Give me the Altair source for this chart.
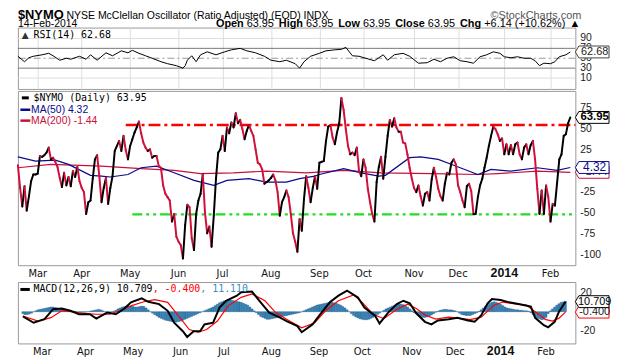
import altair as alt
import pandas as pd

W = 563
X_DOM = [1, 254.3]

# trading-day index (0 = 14-Feb-2013) of the first session of each month
month_idx = [10, 30, 52, 74, 94, 116, 138, 158, 181, 201, 222, 243]
month_lbl = ["Mar", "Apr", "May", "Jun", "Jul", "Aug", "Sep", "Oct", "Nov", "Dec", "2014", "Feb"]

# $NYMO daily values, sessions 1..252
nymo_val = [
    7, -20, -42, -18, -47, -30, -12, -4, -4, -3,
    18, 17, 19, 22, 28, 14, 16, 11, 5, -8,
    -19, -2, -17, -7, -18, 0, -7, 5, -12, -20,
    -25, -51, -37, -35, -9, 14, 19, -6, -37, -20,
    -8, -39, -20, -6, 24, 30, 36, 24, 42, 25,
    14, 30, 38, 46, 52, 59, 45, 34, 28, 24,
    26, 16, 18, 18, 6, 4, -17, -27, -31, -35,
    -60, -51, -78, -84, -88, -104, -64, -40, -43, -80,
    -94, -51, -35, -27, -4, -49, -74, -66, -90, -53,
    -9, 22, 26, 42, 24, 52, 45, 58, 52, 69,
    57, 61, 50, 38, 48, 55, 48, 42, 26, 10,
    8, 2, -15, -13, -11, -8, -4, -11, -25, -53,
    -37, -31, -23, -31, -51, -74, -84, -96, -57, -71,
    -33, -6, -20, -37, -20, -6, -21, 10, 11, 12,
    36, 53, 55, 40, 32, 46, 57, 87, 73, 50,
    30, 20, 22, 19, 28, 0, -6, 14, 4, -21,
    -37, -51, -60, -13, 5, 17, -9, 17, 42, 61,
    53, 63, 52, 47, 47, 34, 33, 20, 4, -9,
    -20, -25, -17, -30, -41, -27, -25, -35, -10, 4,
    -7, -21, -30, -35, -15, -2, -4, 10, 14, 8,
    -17, -25, -35, -43, -18, -15, -24, -51, -51, -31,
    -17, -9, 4, 16, 30, 42, 53, 50, 44, 36,
    39, 20, 32, 20, 31, 20, 32, 34, 20, 14,
    28, 32, 20, 31, 36, 14, -21, -51, -23, -51,
    -17, -31, -60, -39, -41, -14, 14, 20, 42, 44,
    57, 63.95,
]
nymo_idx = list(range(1, len(nymo_val) + 1))

ma50_idx = [1, 9, 18, 24, 34, 39, 43, 51, 57, 64, 72, 81, 90, 96, 106, 114, 123, 129, 136, 138,
            149, 157, 165, 168, 179, 184, 192, 199, 207, 210, 216, 225, 237, 246, 252]
ma50_val = [17, 12, 13, 8, -5, -6, -7, -4, 4, 6, -2, -11, -17, -11, -9, -13, -13, -9, -6, -4,
            3, -2, -6, -5, 16, 17, 14, 7, -1, -4, 2, 0, 4, 1, 4.32]

ma200_idx = [1, 16, 39, 57, 72, 84, 99, 114, 132, 149, 166, 189, 210, 219, 237, 252]
ma200_val = [4, 8, 6, 3, 1, -3, -2, 0, -2, 1, -2, -3, -4, -3, 0, -1.44]

ref_lvl = [55, -51.5]
ref_from = [50, 53]
ref_col = ["#FF0000", "#22DD22"]

rsi_idx = [1, 4, 6, 8, 12, 15, 17, 20, 23, 25, 29, 32, 34, 37, 41, 44, 48, 51, 53, 56,
           59, 62, 66, 69, 73, 76, 77, 78, 80, 82, 84, 87, 91, 95, 98, 102, 105, 109, 113, 116,
           120, 123, 127, 129, 131, 134, 138, 141, 145, 148, 150, 153, 156, 159, 163, 167, 169, 172, 176, 179,
           183, 187, 190, 193, 196, 199, 202, 205, 208, 211, 214, 217, 220, 222, 225, 228, 231, 234, 236, 238,
           240, 243, 245, 247, 250, 252]
rsi_val = [54, 43, 51, 54, 57, 60, 55, 46, 50, 48, 54, 48, 57, 46, 61, 55, 65, 61, 66, 60,
           55, 50, 43, 39, 35, 30, 35, 46, 55, 43, 57, 63, 57, 63, 67, 70, 65, 61, 54, 46,
           43, 46, 39, 30, 43, 54, 60, 65, 67, 68, 72, 55, 54, 50, 45, 57, 46, 57, 60, 54,
           40, 41, 48, 43, 50, 53, 45, 43, 40, 53, 57, 63, 60, 53, 51, 53, 50, 50, 45, 35,
           40, 39, 43, 53, 57, 62.68]
rsi_grid = [10, 90]
rsi_band = [30, 70]
rsi_mid = [50]
rsi_ticks = [90, 70, 50, 30, 10]

main_ticks = [75, 50, 25, 0, -25, -50, -75, -100]
macd_ticks = [20, 0, -20]

macd_idx = [1, 6, 11, 15, 19, 23, 27, 32, 35, 40, 44, 48, 51, 56, 59, 64, 68, 71, 75, 77,
            80, 83, 85, 89, 92, 95, 100, 102, 107, 111, 115, 120, 123, 128, 130, 135, 138, 143, 147, 151,
            156, 159, 164, 166, 170, 174, 177, 180, 183, 187, 190, 193, 198, 202, 207, 210, 213, 216, 218, 222,
            226, 232, 236, 238, 242, 244, 247, 249, 252]
macd_val = [-5, -11.7, -8, 2.7, 3.4, 1, -2.7, -2.7, -7.4, -0.9, -2.7, 3.4, 10, 14.2, 10.6, 8.1, 1, -11.7, -20.7, -26.8,
            -20.7, -20.7, -13.5, -11.7, 4.5, 11.7, 17.1, 20.7, 21.4, 10, -0.9, -6.3, -9.9, -15.3, -21.8, -13.5, -4.5, 10, 17.1, 22.5,
            15.3, 4.5, -4.5, -12.4, -0.9, 8.1, 11.7, 9, -1.7, -10.7, -13.5, -9.3, -8, -6.5, -9.3, -10.7, -4, 9, 13.6, 12.5,
            10, 7.5, 5.5, -6.5, -14.3, -16.6, -10.7, 0, 10.709]

sig_idx = [1, 8, 14, 19, 24, 30, 35, 41, 46, 51, 57, 62, 68, 73, 78, 82, 86, 91, 96, 102,
           107, 113, 118, 123, 130, 136, 141, 147, 154, 158, 163, 168, 174, 179, 183, 187, 192, 198, 202, 208,
           213, 219, 223, 228, 234, 238, 243, 246, 249, 252]
sig_val = [-4.5, -9.9, -6.3, 1, 0, -2, -2.7, -2.7, 1, 6.3, 10.6, 12.8, 10, -4.5, -18.9, -21.8, -18.9, -9.9, 6.3, 15.3,
           18.9, 11.7, -0.9, -8, -17.1, -11.7, 1, 11.7, 17.8, 10, -2.7, -7.4, 2.7, 8.1, 3.5, -3.5, -7.8, -5.8, -6.8, -8.4,
           -5.8, 7, 10.3, 8.6, 7, 0, -8.4, -10, -6.8, -0.4]

hist_val = [
    -2, -3, -3, -2.5, -1.5, 0, 1, 2, 2.5, 3,
    3.5, 4, 4.5, 5, 5, 4.5, 4, 3, 2.5, 2,
    1.5, 1, 1, 0.5, 0.5, 0, 0, -0.5, -0.5, -0.5,
    0, 0.5, 1, 1.5, 2, 2.5, 2, 1, 0, -1,
    -1, -0.5, 0.5, 1.5, 3, 4, 5, 5.5, 6, 6,
    6, 5.5, 5, 5, 5.5, 6, 5.5, 4, 2, 0,
    -1.5, -3, -4.5, -6, -7, -8, -9, -9.5, -10, -10.5,
    -11, -11, -10.5, -10, -9, -8, -7, -6, -5, -4,
    -3, -2, -1, 0, 1, 2, 3, 4, 5, 6.5,
    8, 9.5, 10.5, 11.5, 12, 12.5, 12.5, 12, 11.5, 11,
    10.5, 10, 9, 8, 7, 5, 3, 1, -1, -3,
    -5, -6, -7, -8, -8, -7.5, -7, -6.5, -6, -5.5,
    -5, -4.5, -4, -3.5, -3, -2.5, -2, -1.5, -1, 0,
    1, 2, 3, 4, 5, 6, 7, 7.5, 8, 8.5,
    9, 9.5, 10, 10, 9.5, 9, 8, 7, 5.5, 4,
    2, 0, -2, -4, -5.5, -6.5, -7.5, -8, -8.5, -8.5,
    -8, -7, -6, -4.5, -3, -1.5, 0, 1.5, 3, 4,
    5, 6, 7, 7.5, 8, 8, 7.5, 6.5, 5, 3,
    1, -1, -2, -4, -5, -6, -6, -5.5, -5, -3.5,
    -2, -0.5, 0.5, 1.5, 2, 2.5, 2.5, 2, 2, 1.5,
    1, 0, -1.5, -3, -3.5, -4, -4, -4, -3, -2,
    -1, 0.5, 2, 4, 6, 7.5, 9, 10, 10.5, 10,
    9, 8, 6.5, 5, 4, 3.5, 3, 2.5, 2, 2,
    1.5, 1.5, 1, 1, 0.5, -1, -3, -5, -6.5, -7.5,
    -8.5, -8, -6, -2, 1, 3, 5, 7, 8.5, 10,
    10.5, 11.11,
]
hist_idx = list(range(1, len(hist_val) + 1))

# header texts
ticker = "$NYMO"
title_txt = "NYSE McClellan Oscillator (Ratio Adjusted) (EOD) INDX"
copyright_txt = "\u00a9StockCharts.com"
date_txt = "14-Feb-2014"
quote_parts = [("Open", "bold", 200), ("63.95", "normal", 231), ("High", "bold", 263.5),
               ("63.95", "normal", 291), ("Low", "bold", 323.5), ("63.95", "normal", 348.5),
               ("Close", "bold", 381), ("63.95", "normal", 414), ("Chg", "bold", 446.5),
               ("+6.14 (+10.62%)", "normal", 471), ("\u25b2", "normal", 557)]

SANS = "Liberation Sans, Arial"
MONO = "DejaVu Sans Mono"
VERD = "DejaVu Sans"
GRID = "#dedede"
DOWN = "#D0103A"
NAVY = "#0A0A8C"
CRIM = "#C8103C"
TAG = "M -1.8 0 L -1.45 -0.6 L 1.6 -0.6 L 1.6 0.6 L -1.45 0.6 Z"

xs = alt.Scale(domain=X_DOM, nice=False, zero=False)
ys_rsi = alt.Scale(domain=[-12, 112], nice=False, zero=False)
ys_main = alt.Scale(domain=[-112, 95.5], nice=False, zero=False)
ys_macd = alt.Scale(domain=[-33.7, 31.6], nice=False, zero=False)

X_GRID = alt.Axis(values=month_idx, grid=True, gridColor=GRID, ticks=False, labels=False,
                  domain=False, title=None)


def y_axis(vals, grid=True):
    return alt.Axis(orient="right", values=vals, grid=grid, gridColor=GRID, tickSize=3,
                    tickColor="#999", domain=False, labels=False, title=None)


one = pd.DataFrame({"k": [0]})


def note(txt, x, y, size=10, font=MONO, color="black", weight="normal", align="left",
         baseline="middle"):
    return alt.Chart(pd.DataFrame({"t": [txt]})).mark_text(
        font=font, fontSize=size, color=color, fontWeight=weight, align=align,
        baseline=baseline).encode(x=alt.value(x), y=alt.value(y), text="t:N")


def swatch(x1, x2, y, color, width=3):
    return alt.Chart(one).mark_rule(color=color, strokeWidth=width).encode(
        x=alt.value(x1), x2=alt.value(x2), y=alt.value(y))


def tag(ys, val, label, color, tcolor, weight="normal", size=11):
    d = alt.Chart(pd.DataFrame({"v": [val], "t": [label]}))
    s = d.mark_point(shape=TAG, size=400, filled=True, fill="white", stroke=color,
                     strokeWidth=1, opacity=1).encode(
        x=alt.value(W + 18), y=alt.Y("v:Q", scale=ys, axis=None))
    t = d.mark_text(font=SANS, fontSize=size, fontWeight=weight, color=tcolor, align="center",
                    baseline="middle").encode(
        x=alt.value(W + 19.5), y=alt.Y("v:Q", scale=ys, axis=None), text="t:N")
    return [s, t]


def hrules(vals, ys, color, dash=None, width=1):
    kw = dict(color=color, strokeWidth=width)
    if dash:
        kw["strokeDash"] = dash
    return alt.Chart(pd.DataFrame({"v": vals})).mark_rule(**kw).encode(
        y=alt.Y("v:Q", scale=ys, axis=None))


def y_labels(vals, ys):
    d = pd.DataFrame({"v": vals, "t": [str(v) for v in vals]})
    return alt.Chart(d).mark_text(font=SANS, fontSize=10.5, color="#222", align="left",
                                  baseline="middle").encode(
        x=alt.value(W + 5), y=alt.Y("v:Q", scale=ys, axis=None), text="t:N")


mlab = pd.DataFrame({"idx": month_idx, "t": month_lbl})


def month_labels(h):
    b = alt.Chart(mlab)
    reg = b.transform_filter("datum.t != '2014'").mark_text(
        font=VERD, fontSize=10, color="#111", align="center", baseline="alphabetic").encode(
        x=alt.X("idx:Q", scale=xs, axis=None), y=alt.value(h + 11.5), text="t:N")
    yr = b.transform_filter("datum.t == '2014'").mark_text(
        font=SANS, fontSize=12.5, fontWeight="bold", color="#111", align="center",
        baseline="alphabetic").encode(
        x=alt.X("idx:Q", scale=xs, axis=None), y=alt.value(h + 11.5), text="t:N")
    return [reg, yr]


# ---------------- RSI panel ----------------
rsi_line = alt.Chart(pd.DataFrame({"idx": rsi_idx, "v": rsi_val})).mark_line(
    color="black", strokeWidth=1).encode(
    x=alt.X("idx:Q", scale=xs, axis=X_GRID),
    y=alt.Y("v:Q", scale=ys_rsi, axis=y_axis(rsi_ticks, grid=False)))

header = [note(ticker, 0, -9, size=13, font=SANS, weight="bold", baseline="alphabetic"),
          note(title_txt, 49, -9, size=10.6, font=SANS, baseline="alphabetic"),
          note(copyright_txt, 569, -9, size=11, font=SANS, color="#555", align="right",
               baseline="alphabetic"),
          note(date_txt, 0, -1, size=10.5, font=SANS, baseline="alphabetic")]
for txt, wt, px in quote_parts:
    header.append(note(txt, px, -1, size=11, font=SANS, weight=wt, baseline="alphabetic"))

rsi_panel = alt.layer(
    hrules(rsi_grid, ys_rsi, GRID),
    hrules(rsi_band, ys_rsi, "#777"),
    hrules(rsi_mid, ys_rsi, "#999", dash=[7, 3, 2, 3]),
    rsi_line,
    y_labels(rsi_ticks, ys_rsi),
    note("\u25b2", 4, 8, size=9, font=VERD, color="#333"),
    note("RSI(14) %.2f" % rsi_val[-1], 15.7, 8),
    *tag(ys_rsi, rsi_val[-1], "%.2f" % rsi_val[-1], "#444", "#222"),
    *header,
).properties(width=W, height=62)

# ---------------- main panel ----------------
ref_df = pd.DataFrame({"lvl": ref_lvl, "x0": ref_from, "x1": [X_DOM[1]] * 2, "c": ref_col})
ref_red = alt.Chart(ref_df.iloc[[0]]).mark_rule(strokeWidth=2.5, strokeDash=[12, 4, 3, 4]).encode(
    x=alt.X("x0:Q", scale=xs, axis=None), x2="x1:Q",
    y=alt.Y("lvl:Q", scale=ys_main, axis=None), color=alt.Color("c:N", scale=None))
ref_grn = alt.Chart(ref_df.iloc[[1]]).mark_rule(strokeWidth=2.5, strokeDash=[10, 4, 3, 4, 3, 4]).encode(
    x=alt.X("x0:Q", scale=xs, axis=None), x2="x1:Q",
    y=alt.Y("lvl:Q", scale=ys_main, axis=None), color=alt.Color("c:N", scale=None))

ma200 = alt.Chart(pd.DataFrame({"idx": ma200_idx, "v": ma200_val})).mark_line(
    color=CRIM, strokeWidth=1.2).encode(
    x=alt.X("idx:Q", scale=xs, axis=X_GRID),
    y=alt.Y("v:Q", scale=ys_main, axis=y_axis(main_ticks)))
ma50 = alt.Chart(pd.DataFrame({"idx": ma50_idx, "v": ma50_val})).mark_line(
    color=NAVY, strokeWidth=1.2).encode(
    x=alt.X("idx:Q", scale=xs, axis=None), y=alt.Y("v:Q", scale=ys_main, axis=None))

nymo = alt.Chart(pd.DataFrame({"idx": nymo_idx, "v": nymo_val})).transform_window(
    nidx="lead(idx)", nv="lead(v)", sort=[alt.SortField("idx")]
).transform_filter("datum.nidx != null").transform_calculate(
    col="datum.nv >= datum.v ? '#000000' : '%s'" % DOWN
).mark_rule(strokeWidth=2, strokeCap="round").encode(
    x=alt.X("idx:Q", scale=xs, axis=None), x2="nidx:Q",
    y=alt.Y("v:Q", scale=ys_main, axis=None), y2="nv:Q",
    color=alt.Color("col:N", scale=None))

main_panel = alt.layer(
    ma200, ma50, ref_red, ref_grn, nymo,
    y_labels(main_ticks, ys_main),
    *month_labels(176),
    swatch(4, 11, 7, "black"),
    note("$NYMO (Daily) %.2f" % nymo_val[-1], 15.7, 7),
    swatch(2.5, 12.5, 19, NAVY, 2.5),
    note("MA(50) %.2f" % ma50_val[-1], 13.3, 19.5, size=10.5, font=SANS, color=NAVY),
    swatch(2.5, 12.5, 30, CRIM, 2.5),
    note("MA(200) %.2f" % ma200_val[-1], 13.3, 30.5, size=10.5, font=SANS, color=CRIM),
    *tag(ys_main, ma200_val[-1], "%.2f" % ma200_val[-1], CRIM, "#333", size=11.5),
    *tag(ys_main, ma50_val[-1], "%.2f" % ma50_val[-1], NAVY, NAVY, size=12),
    *tag(ys_main, nymo_val[-1], "%.2f" % nymo_val[-1], "black", "black", weight="bold", size=11.5),
).properties(width=W, height=176)

# ---------------- MACD panel ----------------
hist = alt.Chart(pd.DataFrame({"idx": hist_idx, "v": hist_val})).mark_bar(
    width=2, color="#3586bb", stroke="#1b5582", strokeWidth=0.4).encode(
    x=alt.X("idx:Q", scale=xs, axis=X_GRID),
    y=alt.Y("v:Q", scale=ys_macd, axis=y_axis(macd_ticks)),
    y2=alt.datum(0))
sig = alt.Chart(pd.DataFrame({"idx": sig_idx, "v": sig_val})).mark_line(
    color="#FF0000", strokeWidth=1.2).encode(
    x=alt.X("idx:Q", scale=xs, axis=None), y=alt.Y("v:Q", scale=ys_macd, axis=None))
macd = alt.Chart(pd.DataFrame({"idx": macd_idx, "v": macd_val})).mark_line(
    color="black", strokeWidth=2).encode(
    x=alt.X("idx:Q", scale=xs, axis=None), y=alt.Y("v:Q", scale=ys_macd, axis=None))

m1 = "MACD(12,26,9) %.3f" % macd_val[-1]
m2 = ", %.3f" % sig_val[-1]
m3 = ", %.3f" % hist_val[-1]
macd_panel = alt.layer(
    hist, sig, macd,
    y_labels(macd_ticks, ys_macd),
    *month_labels(62),
    swatch(2.5, 12, 7.5, "black"),
    note(m1, 15.7, 7.5),
    note(m2, 15.7 + 6.02 * len(m1), 7.5, color="#FF0000"),
    note(m3, 15.7 + 6.02 * (len(m1) + len(m2)), 7.5, color="#3a8fc4"),
    *tag(ys_macd, sig_val[-1], "%.3f" % sig_val[-1], "#FF0000", "#222"),
    *tag(ys_macd, macd_val[-1], "%.3f" % macd_val[-1], "black", "black"),
).properties(width=W, height=62)

top = alt.vconcat(rsi_panel, main_panel, spacing=0)
chart = alt.vconcat(top, macd_panel, spacing=1).properties(
    padding={"left": 7, "top": -2, "right": 0, "bottom": 0}
).configure_view(stroke="#999", strokeWidth=1)

chart.save("out.html", embed_options={"renderer": "svg", "actions": False})
